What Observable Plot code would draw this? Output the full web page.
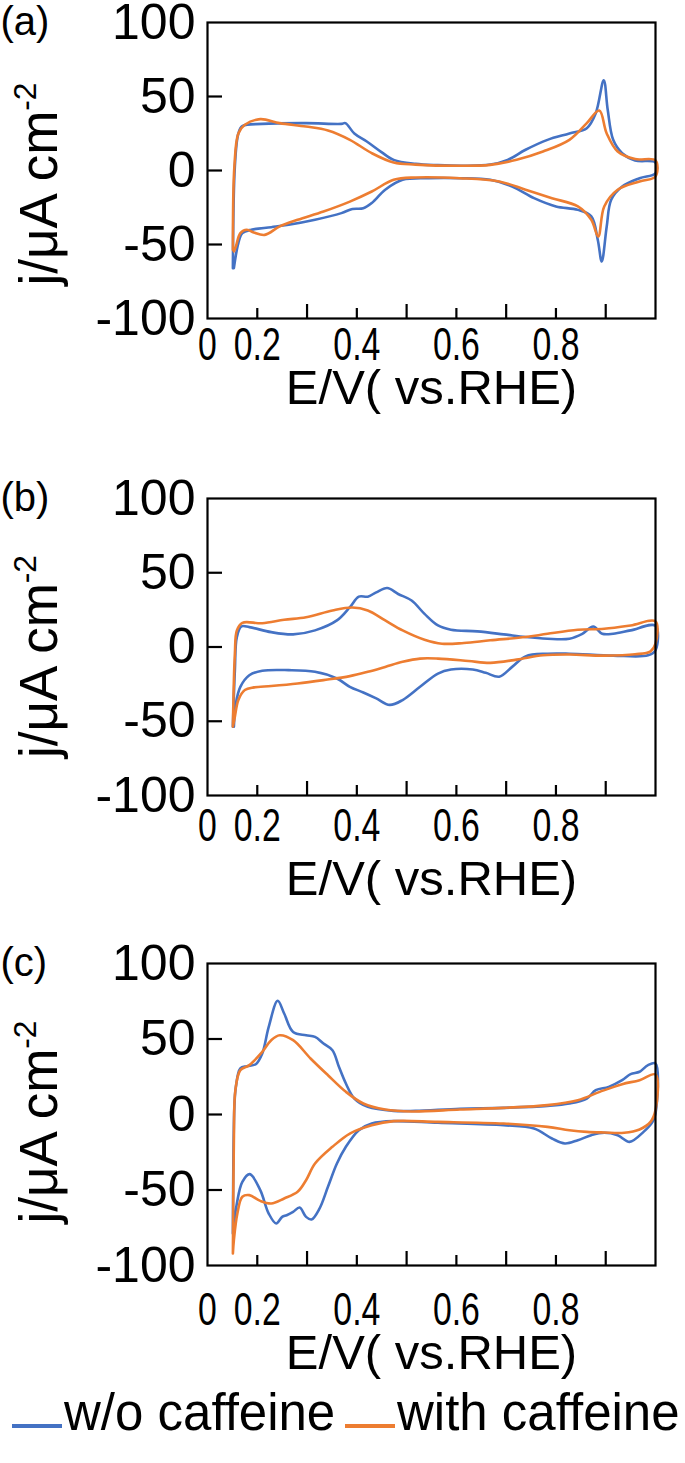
<!DOCTYPE html>
<html>
<head>
<meta charset="utf-8">
<script src="https://cdn.jsdelivr.net/npm/d3@7"></script>
<script src="https://cdn.jsdelivr.net/npm/@observablehq/plot@0.6"></script>
<style>
  body { margin: 0; background: #fff; }
  #wrap { width: 685px; font-family: "Liberation Sans", Arial, sans-serif; }
  svg { display: block; }
  #legend { height: 83px; position: relative; font-size: 51px; color: #000; }
  #legend .sw { position: absolute; top: 44px; height: 4px; width: 50px; }
  #legend .lab { position: absolute; top: 7px; line-height: 52px; white-space: nowrap; }
</style>
</head>
<body>
<div id="wrap"></div>
<script>
// ---- data (E in V vs RHE, j in µA cm^-2), each loop: anodic then cathodic ----
const seriesNames = ["w/o caffeine", "with caffeine"];
const seriesColors = ["#4472C4", "#ED7D31"];
const panelLetters = ["(a)", "(b)", "(c)"];
const xTitle = "E/V( vs.RHE)";
const yTitleMain = "j/μA cm";
const yTitleSup = "-2";
const xLabelText = ["0", "0.2", "0.4", "0.6", "0.8"];
const xLabelAt = [0, 0.1, 0.3, 0.5, 0.7];
const xMajorTicks = [0.2, 0.4, 0.6, 0.8];
const xMinorTicks = [0.1, 0.3, 0.5, 0.7];
const yLabelTicks = [100, 50, 0, -50, -100];
const yInnerTicks = [50, 0, -50];

const aBlue = [
  [0.051,-66],[0.055,3],[0.062,25],[0.070,30],[0.110,31.5],[0.198,32],[0.269,31.5],[0.277,32],
  [0.295,25],[0.320,19.6],[0.348,12.8],[0.374,7.2],[0.418,4.5],[0.463,3.6],[0.515,3.2],[0.568,4],
  [0.603,7.2],[0.639,14],[0.683,20.7],[0.727,25],[0.762,28.6],[0.780,38.7],[0.796,61],[0.804,41],
  [0.815,20.7],[0.833,11.7],[0.859,6.8],[0.900,5.4],
  [0.900,-1.8],[0.868,-5.2],[0.833,-10.8],[0.811,-19.8],[0.802,-37.8],[0.792,-61.5],[0.784,-46.8],
  [0.771,-31],[0.744,-26.6],[0.700,-24.3],[0.656,-18.7],[0.612,-10.8],[0.568,-6.3],[0.507,-5.2],
  [0.445,-5.2],[0.392,-6.3],[0.357,-13],[0.330,-22],[0.313,-25.5],[0.291,-26],[0.269,-28.8],
  [0.216,-33.3],[0.163,-36.7],[0.128,-38.3],[0.088,-40],[0.070,-42.3],[0.062,-49],[0.053,-66]
];
const aOrange = [
  [0.051,-53.6],[0.054,2.7],[0.062,25],[0.075,30.9],[0.106,34.7],[0.145,32],[0.198,29.7],[0.242,27],
  [0.286,20.7],[0.330,11.7],[0.374,5.4],[0.418,4],[0.507,3.2],[0.568,3.8],[0.621,7.2],[0.674,12.8],
  [0.727,20.7],[0.762,32],[0.787,40.5],[0.802,25],[0.824,12.8],[0.859,7.7],[0.900,6.8],
  [0.900,-4],[0.868,-7.4],[0.824,-13],[0.797,-24.3],[0.785,-44.6],[0.771,-33.3],[0.744,-24.3],
  [0.692,-18.7],[0.639,-13],[0.586,-7.4],[0.507,-5.2],[0.418,-4.7],[0.374,-6.3],[0.330,-14.2],
  [0.286,-21],[0.233,-27.7],[0.181,-33.3],[0.145,-37.8],[0.115,-43.5],[0.093,-41.9],[0.079,-40],
  [0.066,-42.3],[0.057,-51.4],[0.053,-54.7]
];
const bBlue = [
  [0.051,-53.6],[0.055,-15.6],[0.059,6.7],[0.068,13.8],[0.084,13.4],[0.128,10],[0.172,8.5],[0.216,11.2],
  [0.260,17.9],[0.286,26.8],[0.304,33.9],[0.322,33.9],[0.339,36.8],[0.361,39.7],[0.383,35.7],[0.410,31.3],
  [0.436,22.3],[0.463,14.5],[0.489,11.6],[0.542,10.5],[0.595,8.5],[0.639,6.7],[0.683,5.6],[0.727,5.6],
  [0.753,8.9],[0.775,13.8],[0.793,8.9],[0.815,8.9],[0.850,11.2],[0.900,14.3],
  [0.900,-2.2],[0.885,-5.6],[0.815,-5.8],[0.727,-4.5],[0.683,-4.5],[0.639,-6.3],[0.612,-13.4],
  [0.586,-20],[0.559,-17.4],[0.533,-15.2],[0.489,-15.2],[0.463,-17.9],[0.427,-26.8],[0.392,-35.7],
  [0.366,-39],[0.339,-34.6],[0.313,-30.6],[0.286,-26.8],[0.260,-21.2],[0.216,-16.7],[0.163,-15.6],
  [0.110,-16],[0.084,-19],[0.066,-26.8],[0.057,-38],[0.053,-53.6]
];
const bOrange = [
  [0.051,-53.6],[0.055,-4.5],[0.059,11.2],[0.070,16.3],[0.110,16],[0.154,18.3],[0.198,20],[0.251,24.6],
  [0.291,26.6],[0.322,24.6],[0.357,17.9],[0.392,11.2],[0.436,4.9],[0.471,2.2],[0.515,2.7],[0.568,4.5],
  [0.639,6.7],[0.683,8.9],[0.744,11.6],[0.797,12.3],[0.850,14.5],[0.900,17.2],
  [0.900,2.2],[0.890,-2.9],[0.859,-4.9],[0.797,-5.8],[0.727,-5.1],[0.674,-5.6],[0.621,-8.5],
  [0.568,-10.7],[0.524,-9.4],[0.463,-7.8],[0.427,-7.8],[0.392,-10],[0.357,-13.4],[0.322,-16.7],
  [0.286,-19.6],[0.233,-22.3],[0.181,-24.6],[0.128,-26.3],[0.093,-27.2],[0.075,-29],[0.062,-35.7],
  [0.055,-46.9],[0.051,-53.6]
];
const cBlue = [
  [0.051,-78.8],[0.054,5],[0.057,18.3],[0.066,30.5],[0.079,32],[0.097,33.3],[0.110,40.4],[0.123,58],
  [0.141,75.3],[0.154,66.9],[0.172,54.7],[0.198,52.5],[0.216,51.4],[0.233,47],[0.251,42.6],[0.264,31.6],
  [0.278,20.5],[0.295,10.6],[0.322,5.1],[0.374,2.4],[0.418,2.4],[0.507,3.8],[0.595,4.4],[0.683,5.7],
  [0.727,7.3],[0.762,10.6],[0.780,16.1],[0.806,18.3],[0.833,22.7],[0.850,26.7],[0.868,28.3],
  [0.885,32.7],[0.900,33.8],
  [0.900,0.7],[0.894,-4.9],[0.876,-11.5],[0.848,-18.1],[0.824,-13.7],[0.797,-12.1],[0.771,-13.7],
  [0.744,-17],[0.718,-19.2],[0.692,-15.9],[0.656,-9.3],[0.595,-7.1],[0.463,-5.5],[0.374,-4.4],
  [0.330,-6],[0.304,-10.4],[0.278,-21.4],[0.260,-32.5],[0.242,-47.9],[0.225,-62.3],[0.209,-69.5],
  [0.198,-67.8],[0.185,-61.6],[0.172,-64.5],[0.159,-66.7],[0.150,-67.8],[0.138,-72.2],[0.123,-65.6],
  [0.106,-50.1],[0.085,-39.5],[0.070,-44.6],[0.059,-58.9],[0.051,-78.8]
];
const cOrange = [
  [0.051,-92],[0.053,-17],[0.056,16.1],[0.066,29.4],[0.084,32.7],[0.110,41.5],[0.128,49.2],[0.145,52.5],
  [0.172,49.2],[0.207,37.1],[0.242,26],[0.278,15],[0.313,7.3],[0.357,3.3],[0.410,2],[0.507,3.3],
  [0.595,4.4],[0.683,6.2],[0.744,9.5],[0.788,15],[0.833,20.1],[0.868,22.7],[0.900,26.5],
  [0.900,2.9],[0.890,-4.9],[0.868,-9.9],[0.837,-12.1],[0.797,-11.9],[0.762,-11.5],[0.727,-10.4],
  [0.683,-8.2],[0.595,-6],[0.463,-4.9],[0.374,-4.4],[0.330,-7.1],[0.286,-12.6],[0.251,-21.4],
  [0.216,-32.5],[0.198,-43.5],[0.181,-51.2],[0.154,-55.6],[0.128,-58.9],[0.106,-57.2],[0.084,-53.4],
  [0.070,-54.5],[0.060,-65.6],[0.053,-83.2],[0.051,-92]
];

const panels = [
  {letter: panelLetters[0], series: [aBlue, aOrange], height: 470, mt: 22, mb: 152, tickPad: 8, titleDy: 70, yTitleShift: 14},
  {letter: panelLetters[1], series: [bBlue, bOrange], height: 470, mt: 28, mb: 145, tickPad: 12, titleDy: 84, yTitleShift: 10},
  {letter: panelLetters[2], series: [cBlue, cOrange], height: 440, mt: 23, mb: 115, tickPad: 26, titleDy: 88, yTitleShift: 8}
];

const FONT = "Liberation Sans, Arial, sans-serif";
const FS_Y = 50, FS_X = 47, FS_TITLE = 49, FS_YTITLE = 53;
const labelMap = new Map(xLabelAt.map((v, i) => [v, xLabelText[i]]));

const wrap = document.getElementById("wrap");

for (const p of panels) {
  const data = [];
  p.series.forEach((pts, si) => pts.forEach(([E, j], k) => data.push({E, j, s: seriesNames[si], k})));
  const chart = Plot.plot({
    width: 685,
    height: p.height,
    marginLeft: 207,
    marginRight: 30,
    marginTop: p.mt,
    marginBottom: p.mb,
    style: {fontFamily: FONT, fontSize: FS_X + "px", color: "#000", background: "#fff", overflow: "visible"},
    x: {domain: [0, 0.9], label: null},
    y: {domain: [-100, 100], label: null},
    color: {domain: seriesNames, range: seriesColors},
    marks: [
      Plot.line(data, {x: "E", y: "j", z: "s", stroke: "s", strokeWidth: 2.6, curve: "catmull-rom"}),
      Plot.frame({stroke: "#000", strokeWidth: 2.2}),
      Plot.axisX({ticks: xMajorTicks, tickSize: -14, strokeWidth: 2.2, tickFormat: () => "", label: null}),
      Plot.axisX({ticks: xMinorTicks, tickSize: -10, strokeWidth: 2.2, tickFormat: () => "", label: null}),
      Plot.axisX({ticks: xLabelAt, tickSize: 0, tickPadding: p.tickPad, fontSize: FS_X, tickFormat: d => labelMap.get(d), label: null}),
      Plot.axisY({ticks: yInnerTicks, tickSize: -15, strokeWidth: 2.2, tickFormat: () => "", label: null}),
      Plot.axisY({ticks: yLabelTicks, tickSize: 0, tickPadding: 12, fontSize: FS_Y, tickFormat: d => String(d), label: null}),
      Plot.text([xTitle], {frameAnchor: "bottom", dy: p.titleDy, fontSize: FS_TITLE, lineAnchor: "middle"}),
      Plot.text([p.letter], {frameAnchor: "top-left", dx: -207, textAnchor: "start", lineAnchor: "middle", fontSize: 40})
    ]
  });
  wrap.appendChild(chart);
  const svg = d3.select(chart.tagName.toLowerCase() === "svg" ? chart : chart.querySelector("svg"));
  // x tick labels are set in a condensed width, as in the reference
  svg.selectAll('g[aria-label="x-axis tick label"] text').each(function () {
    const txt = this.textContent;
    if (!txt) return;
    const w = this.getComputedTextLength();
    if (w > 0) {
      this.setAttribute("textLength", (w * 0.72).toFixed(1));
      this.setAttribute("lengthAdjust", "spacingAndGlyphs");
    }
  });
  // rotated y title with superscript
  const cy = p.mt + (p.height - p.mt - p.mb) / 2 + p.yTitleShift;
  const t = svg.append("text")
    .attr("transform", `translate(57,${cy}) rotate(-90)`)
    .attr("text-anchor", "middle")
    .attr("font-family", FONT)
    .attr("font-size", FS_YTITLE)
    .attr("fill", "#000");
  t.append("tspan").text(yTitleMain);
  t.append("tspan").attr("font-size", FS_YTITLE * 0.6).attr("dy", -FS_YTITLE * 0.4).text(yTitleSup);
}

// legend
const legend = document.createElement("div");
legend.id = "legend";
const swX = [12, 345], labX = [64, 397];
seriesNames.forEach((name, i) => {
  const sw = document.createElement("div");
  sw.className = "sw";
  sw.style.left = swX[i] + "px";
  sw.style.background = seriesColors[i];
  const lab = document.createElement("div");
  lab.className = "lab";
  lab.style.left = labX[i] + "px";
  lab.textContent = name;
  legend.appendChild(sw);
  legend.appendChild(lab);
});
wrap.appendChild(legend);
</script>
</body>
</html>
